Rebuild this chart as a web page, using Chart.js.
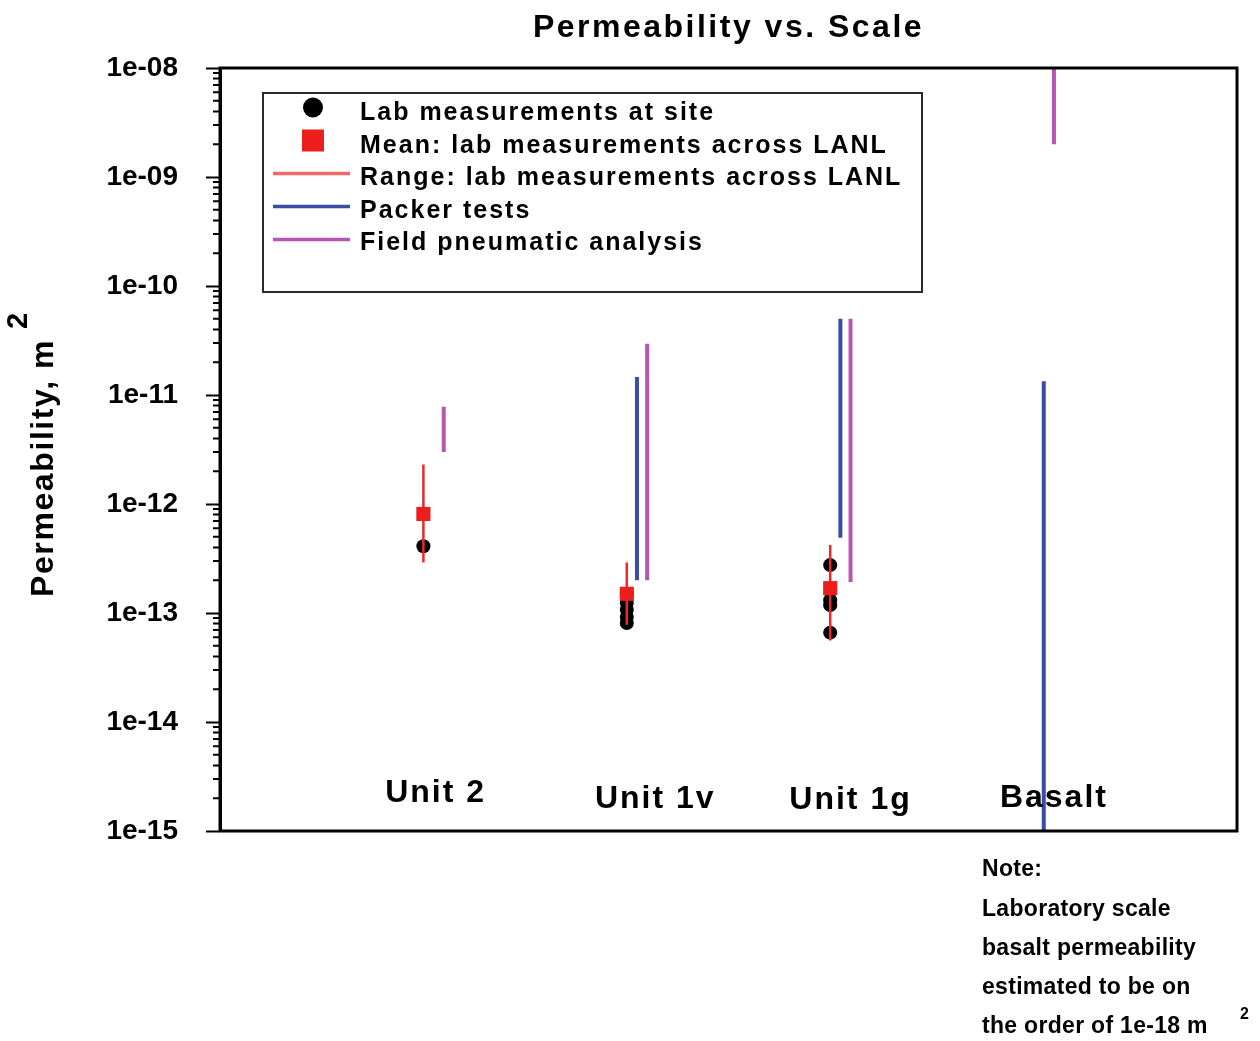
<!DOCTYPE html>
<html>
<head>
<meta charset="utf-8">
<title>Permeability vs. Scale</title>
<script src="https://cdn.jsdelivr.net/npm/chart.js@4.4.1/dist/chart.umd.min.js"></script>
<style>
  html, body { margin: 0; padding: 0; background: #fff; }
  #wrap { width: 1260px; height: 1041px; }
</style>
</head>
<body>
<div id="wrap"><canvas id="permChart" width="1260" height="1041"></canvas></div>
<script>
// Categories (lab measurements sit at x = 1..4)
const categories = ['Unit 2', 'Unit 1v', 'Unit 1g', 'Basalt'];

// Lab measurements at site, m^2
const labUnit2 = [4.1e-13];
const labUnit1v = [1.49e-13, 1.24e-13, 1.07e-13, 9.2e-14, 8.1e-14];
const labUnit1g = [2.75e-13, 1.31e-13, 1.18e-13, 6.6e-14];
const labBasalt = [];

// Mean and range of lab measurements across LANL
const meanLanl = [8.1e-13, 1.5e-13, 1.69e-13, null];
const rangeLow = [2.9e-13, 7.8e-14, 5.6e-14, null];
const rangeHigh = [2.3e-12, 2.9e-13, 4.2e-13, null];

// Packer tests
const packerLow = [null, 2.0e-13, 4.9e-13, 1.0e-15];
const packerHigh = [null, 1.46e-11, 5.0e-11, 1.34e-11];

// Field pneumatic analysis
const pneumaticLow = [3.0e-12, 2.0e-13, 1.92e-13, 2.0e-9];
const pneumaticHigh = [7.8e-12, 2.95e-11, 5.0e-11, 1.0e-8];

// Y axis ticks
const yTickValues = [1e-15, 1e-14, 1e-13, 1e-12, 1e-11, 1e-10, 1e-9, 1e-8];
const yTickLabels = ['1e-15', '1e-14', '1e-13', '1e-12', '1e-11', '1e-10', '1e-09', '1e-08'];

const legendLabels = [
    'Lab measurements at site',
    'Mean: lab measurements across LANL',
    'Range: lab measurements across LANL',
    'Packer tests',
    'Field pneumatic analysis'
];
const noteLines = ['Note:', 'Laboratory scale', 'basalt permeability', 'estimated to be on', 'the order of 1e-18 m'];

// layout bits
const PACKER_SHIFT = 0.05;
const PNEUMATIC_SHIFT = 0.10;
const catLabelX = [1.06, 2.14, 3.10, 4.10];
const catLabelLift = [29, 23, 22, 24];

const FONT = "'Liberation Sans', Arial, Helvetica, sans-serif";
Chart.defaults.font.family = FONT;
Chart.defaults.color = '#000';

// vertical segments, separated by null gaps
function segments(lows, highs, shift) {
    const pts = [];
    lows.forEach((lo, i) => {
        if (lo == null || highs[i] == null) return;
        const x = i + 1 + shift;
        pts.push({ x: x, y: lo }, { x: x, y: highs[i] }, { x: x, y: null });
    });
    return pts;
}

const labData = [];
[labUnit2, labUnit1v, labUnit1g, labBasalt].forEach((vals, i) => {
    vals.forEach(v => labData.push({ x: i + 1, y: v }));
});
const meanData = [];
meanLanl.forEach((v, i) => { if (v != null) meanData.push({ x: i + 1, y: v }); });

function drawText(ctx, text, x, y, size, align, spacing) {
    ctx.font = 'bold ' + size + 'px ' + FONT;
    ctx.textAlign = align;
    ctx.letterSpacing = (spacing || 0) + 'px';
    ctx.fillText(text, x, y);
    ctx.letterSpacing = '0px';
}

const decorations = {
    id: 'decorations',
    afterDatasetsDraw(chart) {
        const { ctx, chartArea: area, scales: { y } } = chart;
        ctx.save();
        ctx.strokeStyle = '#000';
        ctx.lineWidth = 3;
        ctx.strokeRect(area.left, area.top, area.right - area.left, area.bottom - area.top);

        // minor ticks on the log axis
        ctx.lineWidth = 2;
        ctx.beginPath();
        for (let k = 0; k < yTickValues.length - 1; k++) {
            for (let m = 2; m <= 9; m++) {
                const py = y.getPixelForValue(m * yTickValues[k]);
                ctx.moveTo(area.left - 7, py);
                ctx.lineTo(area.left, py);
            }
        }
        ctx.stroke();
        ctx.restore();
    },
    afterDraw(chart) {
        const { ctx, chartArea: area, scales: { x } } = chart;
        const ds = chart.data.datasets;
        ctx.save();
        ctx.fillStyle = '#000';
        ctx.textBaseline = 'alphabetic';

        // title
        drawText(ctx, 'Permeability vs. Scale', (area.left + area.right) / 2, 37, 32, 'center', 2.5);

        // y axis title with superscript
        ctx.save();
        ctx.translate(53, 597);
        ctx.rotate(-Math.PI / 2);
        drawText(ctx, 'Permeability, m', 0, 0, 32, 'left', 1.6);
        drawText(ctx, '2', 268, -26, 29, 'left', 0);
        ctx.restore();

        // category labels inside plot
        categories.forEach((c, i) => {
            drawText(ctx, c, x.getPixelForValue(catLabelX[i]), area.bottom - catLabelLift[i], 32, 'center', 2);
        });

        // legend box
        const lx = 263, ly = 93, lw = 659, lh = 199;
        ctx.fillStyle = '#fff';
        ctx.fillRect(lx, ly, lw, lh);
        ctx.strokeStyle = '#2a2a2a';
        ctx.lineWidth = 2;
        ctx.strokeRect(lx, ly, lw, lh);

        const symY = i => 107.5 + 33 * i;
        // circle
        ctx.fillStyle = ds[4].backgroundColor;
        ctx.beginPath();
        ctx.arc(313, symY(0), 10, 0, Math.PI * 2);
        ctx.fill();
        // square
        ctx.fillStyle = ds[0].backgroundColor;
        ctx.fillRect(302, symY(1) - 11, 22, 22);
        // lines
        [1, 3, 2].forEach((d, k) => {
            ctx.strokeStyle = ds[d].borderColor;
            ctx.globalAlpha = d === 1 ? 0.7 : 1;
            ctx.lineWidth = 3.5;
            ctx.beginPath();
            ctx.moveTo(273, symY(2 + k));
            ctx.lineTo(350, symY(2 + k));
            ctx.stroke();
        });
        ctx.globalAlpha = 1;

        ctx.fillStyle = '#000';
        ctx.textBaseline = 'middle';
        legendLabels.forEach((t, i) => {
            drawText(ctx, t, 360, 113.5 + 32.5 * i, 25, 'left', 2);
        });

        // note under the plot
        noteLines.forEach((t, i) => {
            drawText(ctx, t, 982, [870, 910, 949, 988, 1027][i], 23, 'left', 0.3);
        });
        drawText(ctx, '2', 1240, 1015, 16, 'left', 0);
        ctx.restore();
    }
};

const ctx = document.getElementById('permChart').getContext('2d');
new Chart(ctx, {
    type: 'scatter',
    data: {
        datasets: [
            {
                label: legendLabels[1],
                data: meanData,
                pointStyle: 'rect',
                pointRadius: 10,
                pointHoverRadius: 10,
                backgroundColor: 'rgb(236, 30, 30)',
                borderWidth: 0
            },
            {
                label: legendLabels[2],
                data: segments(rangeLow, rangeHigh, 0),
                showLine: true,
                spanGaps: false,
                borderColor: 'rgb(236, 40, 40)',
                borderWidth: 2.5,
                pointRadius: 0,
                pointHoverRadius: 0
            },
            {
                label: legendLabels[4],
                data: segments(pneumaticLow, pneumaticHigh, PNEUMATIC_SHIFT),
                showLine: true,
                spanGaps: false,
                borderColor: 'rgb(183, 85, 178)',
                borderWidth: 4,
                pointRadius: 0,
                pointHoverRadius: 0
            },
            {
                label: legendLabels[3],
                data: segments(packerLow, packerHigh, PACKER_SHIFT),
                showLine: true,
                spanGaps: false,
                borderColor: 'rgb(58, 76, 168)',
                borderWidth: 4,
                pointRadius: 0,
                pointHoverRadius: 0
            },
            {
                label: legendLabels[0],
                data: labData,
                pointStyle: 'circle',
                pointRadius: 7,
                pointHoverRadius: 7,
                backgroundColor: '#000',
                borderWidth: 0
            }
        ]
    },
    options: {
        responsive: false,
        animation: false,
        events: [],
        layout: { padding: { left: 0, right: 23, top: 68, bottom: 210 } },
        plugins: {
            legend: { display: false },
            tooltip: { enabled: false }
        },
        scales: {
            x: {
                type: 'linear',
                min: 0,
                max: 5,
                display: false
            },
            y: {
                type: 'logarithmic',
                min: 1e-15,
                max: 1e-8,
                afterFit: scale => { scale.width = 220; },
                afterBuildTicks: scale => {
                    scale.ticks = yTickValues.map(v => ({ value: v, major: true }));
                },
                grid: {
                    display: true,
                    drawOnChartArea: false,
                    drawTicks: true,
                    tickLength: 14,
                    tickWidth: 2,
                    tickColor: '#000'
                },
                border: { display: true, color: '#000', width: 3 },
                ticks: {
                    autoSkip: false,
                    padding: 28,
                    font: { size: 28, weight: 'bold' },
                    color: '#000',
                    callback: (value, index) => yTickLabels[index]
                },
                title: { display: false }
            }
        }
    },
    plugins: [decorations]
});
</script>
</body>
</html>
